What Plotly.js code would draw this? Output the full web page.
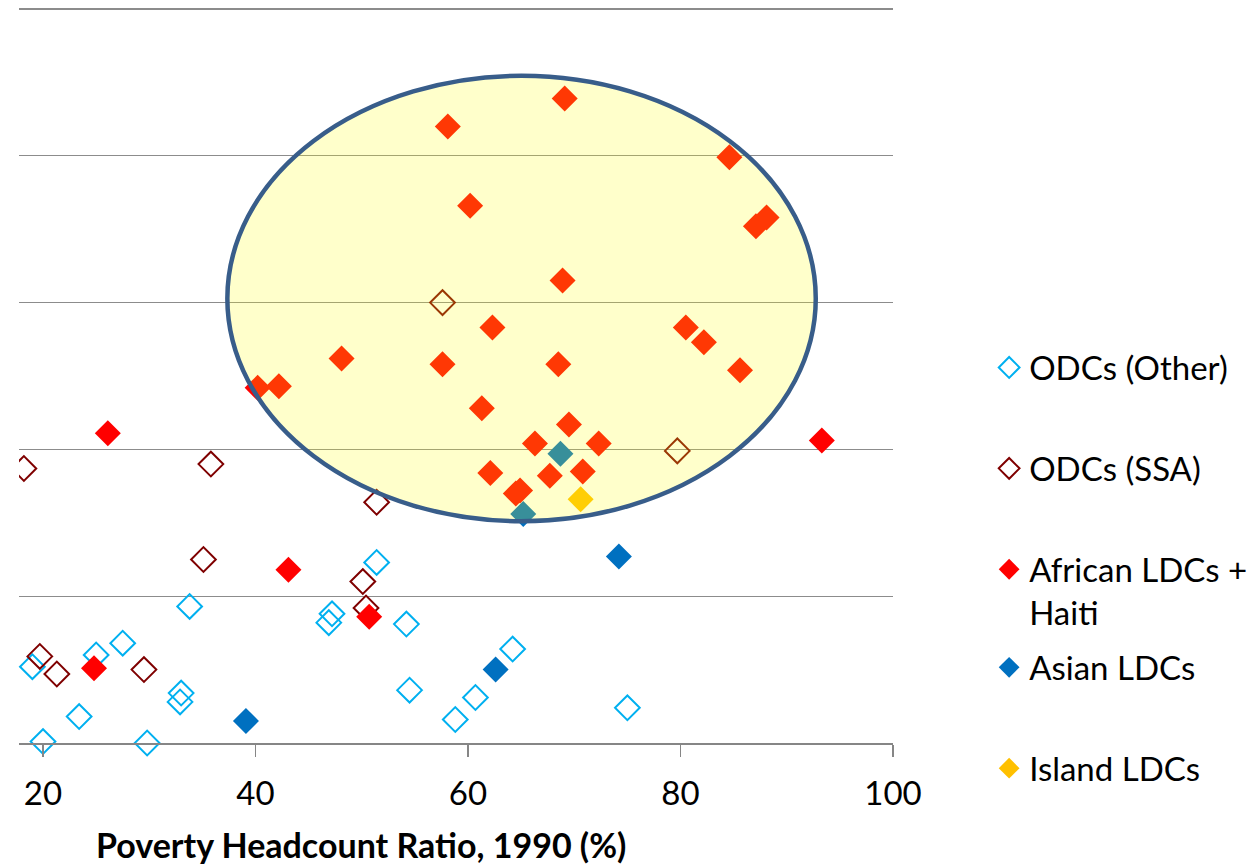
<!DOCTYPE html>
<html>
<head>
<meta charset="utf-8">
<script src="https://cdn.plot.ly/plotly-3.0.1.min.js"></script>
<style>html,body{margin:0;padding:0;background:#fff;}#chart{width:1252px;height:865px;}</style>
</head>
<body>
<div id="chart"></div>
<script>
// ---- data ----
const seriesNames = ["ODCs (Other)", "ODCs (SSA)", "African LDCs +<br>Haiti", "Asian LDCs", "Island LDCs"];

const odcOtherX = [51.4, 33.8, 47.2, 46.9, 54.2, 27.5, 25.0, 19.0, 64.2, 54.5, 60.7, 33.0, 32.9, 23.4, 58.8, 75.0, 20.0, 29.8];
const odcOtherY = [12.3, 9.3, 8.8, 8.2, 8.1, 6.8, 6.0, 5.2, 6.4, 3.6, 3.1, 3.4, 2.8, 1.8, 1.6, 2.4, 0.1, 0.0];

const odcSsaX = [57.6, 79.7, 18.2, 35.8, 51.4, 35.1, 50.1, 50.4, 19.7, 21.3, 29.5];
const odcSsaY = [30.0, 19.9, 18.7, 19.0, 16.4, 12.5, 11.0, 9.2, 5.9, 4.7, 5.0];

const africanX = [69.1, 58.1, 84.6, 60.2, 87.1, 88.1, 68.9, 62.3, 80.5, 82.2, 48.1, 57.6, 68.5, 85.6, 40.2, 42.2, 61.3, 69.5, 66.3, 72.3, 62.1, 67.7, 70.8, 64.5, 64.9, 26.1, 93.3, 43.1, 50.7, 24.8];
const africanY = [43.9, 42.0, 39.9, 36.6, 35.2, 35.8, 31.5, 28.3, 28.3, 27.3, 26.2, 25.8, 25.8, 25.4, 24.2, 24.3, 22.8, 21.7, 20.4, 20.4, 18.4, 18.2, 18.5, 17.0, 17.2, 21.1, 20.6, 11.8, 8.6, 5.1];

const asianX = [68.7, 65.2, 74.2, 62.6, 39.1];
const asianY = [19.7, 15.6, 12.7, 5.0, 1.5];

const islandX = [70.6];
const islandY = [16.6];

const xTickVals = [20, 40, 60, 80, 100];
const xTickText = ["20", "40", "60", "80", "100"];
const xTitle = "Poverty Headcount Ratio, 1990 (%)";

// highlighted ellipse bounds (data units)
const ellipseX = [37.35, 92.73];
const ellipseY = [15.11, 45.45];

// ---- styling ----
const FONT = "Lato, 'Open Sans', sans-serif";
const cyan = "#00B0F0", darkRed = "#7F0000", red = "#FF0000", blue = "#0070C0", gold = "#FFC000";
const MS = 20;

const traces = [
  {x: odcOtherX, y: odcOtherY, name: seriesNames[0], color: cyan, open: true, legend: "legend", clip: false},
  {x: odcSsaX, y: odcSsaY, name: seriesNames[1], color: darkRed, open: true, legend: "legend", clip: true},
  {x: africanX, y: africanY, name: seriesNames[2], color: red, open: false, legend: "legend", clip: true},
  {x: asianX, y: asianY, name: seriesNames[3], color: blue, open: false, legend: "legend2", clip: false},
  {x: islandX, y: islandY, name: seriesNames[4], color: gold, open: false, legend: "legend2", clip: false}
].map((t, i) => ({
  type: "scatter",
  mode: "markers",
  x: t.x, y: t.y, name: t.name,
  legend: t.legend,
  legendgroup: "g" + i,
  cliponaxis: t.clip,
  marker: t.open
    ? {symbol: "diamond-open", size: MS - 1, color: t.color, line: {width: 2, color: t.color}}
    : {symbol: "diamond", size: MS, color: t.color, line: {width: 0}},
  hoverinfo: "x+y+name"
}));

const legendCommon = {
  font: {family: FONT, size: 33, color: "#000"},
  bgcolor: "rgba(0,0,0,0)",
  borderwidth: 0,
  xanchor: "left",
  yanchor: "top",
  tracegroupgap: 55,
  valign: "top",
  itemclick: false
};

const layout = {
  width: 1252, height: 865,
  margin: {l: 19, r: 359, t: 8, b: 122, autoexpand: false},
  paper_bgcolor: "#fff",
  plot_bgcolor: "#fff",
  showlegend: true,
  font: {family: FONT, color: "#000"},
  xaxis: {
    range: [17.74, 100],
    tickvals: xTickVals, ticktext: xTickText,
    showgrid: false, zeroline: false,
    showline: true, linecolor: "#868686", linewidth: 2,
    ticks: "outside", ticklen: 12, tickwidth: 1.5, tickcolor: "#868686",
    tickfont: {family: FONT, size: 33, color: "#000"},
    ticklabelstandoff: 8,
    fixedrange: true
  },
  yaxis: {
    range: [0, 50.07], tickvals: [0, 10, 20, 30, 40, 50],
    showgrid: true, gridcolor: "#8C8C8C", gridwidth: 1.3,
    zeroline: false, showline: false, showticklabels: false, ticks: "",
    fixedrange: true
  },
  legend: Object.assign({}, legendCommon, {x: 1.11, y: 0.549}),
  legend2: Object.assign({}, legendCommon, {x: 1.11, y: 0.141}),
  shapes: [{
    type: "circle", xref: "x", yref: "y", layer: "above",
    x0: ellipseX[0], x1: ellipseX[1], y0: ellipseY[0], y1: ellipseY[1],
    fillcolor: "rgba(255,255,20,0.22)",
    line: {color: "#385D8A", width: 4.5}
  }],
  annotations: [{
    text: "<b>" + xTitle + "</b>",
    xref: "paper", yref: "paper",
    x: (361 - 19) / 874, y: (743 - 845) / 735,
    xanchor: "center", yanchor: "middle",
    showarrow: false,
    font: {family: FONT, size: 34, color: "#000"}
  }]
};

Plotly.newPlot("chart", traces, layout, {displayModeBar: false, staticPlot: true});
</script>
</body>
</html>
